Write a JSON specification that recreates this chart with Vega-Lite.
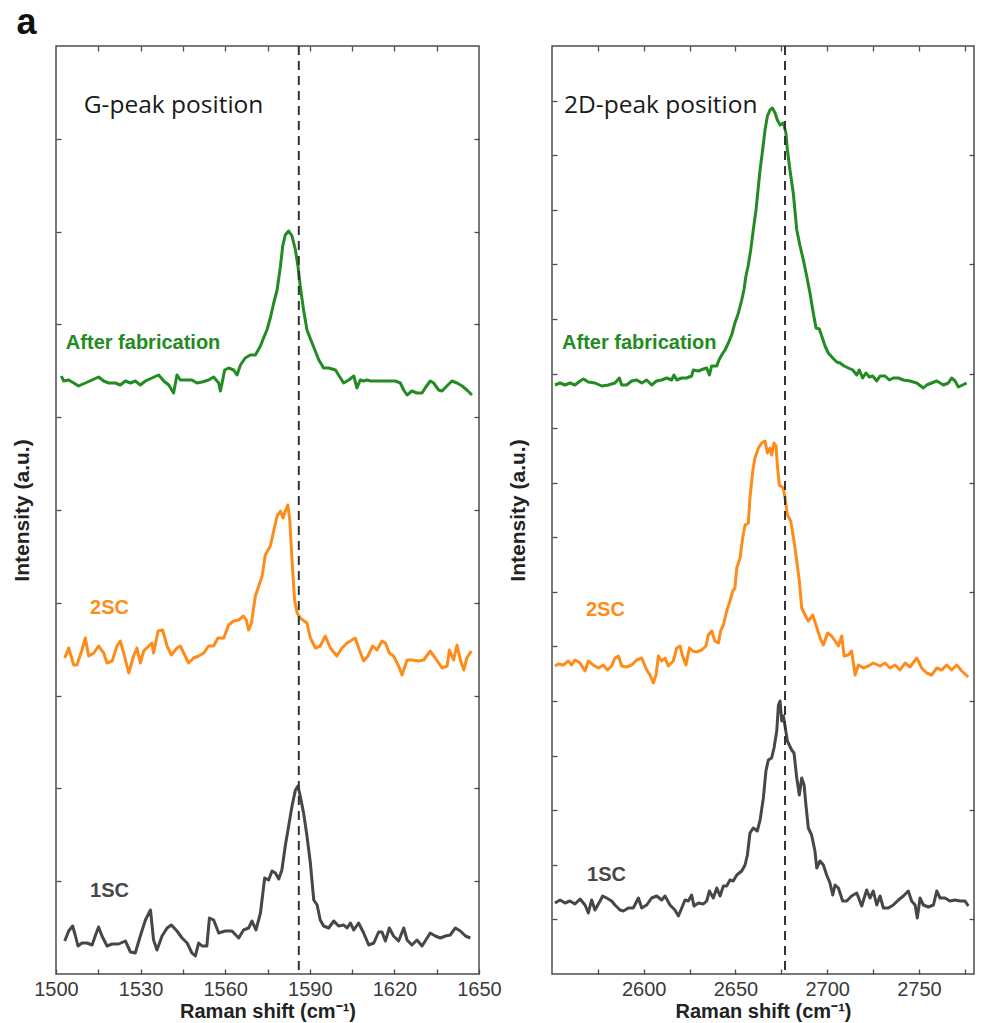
{
"$schema": "https://vega.github.io/schema/vega-lite/v6.json",
"background": "white",
"padding": {"left": 10, "top": 5, "right": 5, "bottom": 0},
"title": {"text": "a", "anchor": "start", "frame": "bounds", "fontSize": 36, "font": "Liberation Sans", "fontWeight": "bold", "color": "#111", "offset": 2, "dx": 6},
"config": {
  "view": {"stroke": "#4d4d4d", "strokeWidth": 1.5},
  "axis": {"labelFont": "Liberation Sans", "labelFontSize": 20, "labelColor": "#3a3a3a", "titleFont": "Liberation Sans", "titleFontWeight": "bold", "titleColor": "#222", "tickColor": "#4d4d4d", "tickWidth": 1.3, "domain": false, "grid": false, "tickSize": -5, "labelFlush": false, "labelOverlap": false}
},
"datasets": {
  "g": [
{"series":"After fabrication","shift":1501.9,"intensity":598},{"series":"After fabrication","shift":1502.7,"intensity":593},{"series":"After fabrication","shift":1504.5,"intensity":594},{"series":"After fabrication","shift":1506.3,"intensity":591},{"series":"After fabrication","shift":1508.0,"intensity":588},{"series":"After fabrication","shift":1510.4,"intensity":591},{"series":"After fabrication","shift":1512.8,"intensity":594},{"series":"After fabrication","shift":1515.1,"intensity":597},{"series":"After fabrication","shift":1516.9,"intensity":593},{"series":"After fabrication","shift":1518.7,"intensity":591},{"series":"After fabrication","shift":1521.0,"intensity":591},{"series":"After fabrication","shift":1522.8,"intensity":589},{"series":"After fabrication","shift":1524.6,"intensity":593},{"series":"After fabrication","shift":1526.4,"intensity":591},{"series":"After fabrication","shift":1528.1,"intensity":593},{"series":"After fabrication","shift":1529.9,"intensity":589},{"series":"After fabrication","shift":1531.7,"intensity":593},{"series":"After fabrication","shift":1534.0,"intensity":596},{"series":"After fabrication","shift":1536.4,"intensity":599},{"series":"After fabrication","shift":1538.2,"intensity":593},{"series":"After fabrication","shift":1540.0,"intensity":589},{"series":"After fabrication","shift":1541.7,"intensity":581},{"series":"After fabrication","shift":1542.9,"intensity":599},{"series":"After fabrication","shift":1544.1,"intensity":594},{"series":"After fabrication","shift":1545.9,"intensity":594},{"series":"After fabrication","shift":1548.2,"intensity":594},{"series":"After fabrication","shift":1550.0,"intensity":591},{"series":"After fabrication","shift":1551.8,"intensity":592},{"series":"After fabrication","shift":1554.1,"intensity":594},{"series":"After fabrication","shift":1555.9,"intensity":597},{"series":"After fabrication","shift":1557.7,"intensity":591},{"series":"After fabrication","shift":1558.3,"intensity":583},{"series":"After fabrication","shift":1558.9,"intensity":591},{"series":"After fabrication","shift":1559.8,"intensity":604},{"series":"After fabrication","shift":1561.2,"intensity":606},{"series":"After fabrication","shift":1563.0,"intensity":604},{"series":"After fabrication","shift":1564.2,"intensity":599},{"series":"After fabrication","shift":1565.4,"intensity":609},{"series":"After fabrication","shift":1567.1,"intensity":616},{"series":"After fabrication","shift":1568.9,"intensity":619},{"series":"After fabrication","shift":1570.7,"intensity":619},{"series":"After fabrication","shift":1572.5,"intensity":628},{"series":"After fabrication","shift":1573.6,"intensity":636},{"series":"After fabrication","shift":1574.8,"intensity":644},{"series":"After fabrication","shift":1576.0,"intensity":656},{"series":"After fabrication","shift":1577.2,"intensity":671},{"series":"After fabrication","shift":1578.4,"intensity":684},{"series":"After fabrication","shift":1579.6,"intensity":708},{"series":"After fabrication","shift":1580.4,"intensity":728},{"series":"After fabrication","shift":1581.3,"intensity":739},{"series":"After fabrication","shift":1582.5,"intensity":743},{"series":"After fabrication","shift":1583.7,"intensity":738},{"series":"After fabrication","shift":1584.9,"intensity":724},{"series":"After fabrication","shift":1585.8,"intensity":708},{"series":"After fabrication","shift":1586.6,"intensity":688},{"series":"After fabrication","shift":1587.8,"intensity":664},{"series":"After fabrication","shift":1589.0,"intensity":644},{"series":"After fabrication","shift":1590.8,"intensity":631},{"series":"After fabrication","shift":1593.2,"intensity":614},{"series":"After fabrication","shift":1594.9,"intensity":606},{"series":"After fabrication","shift":1596.7,"intensity":606},{"series":"After fabrication","shift":1599.1,"intensity":604},{"series":"After fabrication","shift":1600.2,"intensity":599},{"series":"After fabrication","shift":1602.0,"intensity":591},{"series":"After fabrication","shift":1603.8,"intensity":594},{"series":"After fabrication","shift":1605.6,"intensity":598},{"series":"After fabrication","shift":1606.7,"intensity":586},{"series":"After fabrication","shift":1607.9,"intensity":594},{"series":"After fabrication","shift":1609.1,"intensity":593},{"series":"After fabrication","shift":1610.3,"intensity":594},{"series":"After fabrication","shift":1611.5,"intensity":593},{"series":"After fabrication","shift":1613.2,"intensity":593},{"series":"After fabrication","shift":1615.6,"intensity":593},{"series":"After fabrication","shift":1617.9,"intensity":593},{"series":"After fabrication","shift":1620.3,"intensity":593},{"series":"After fabrication","shift":1622.1,"intensity":591},{"series":"After fabrication","shift":1623.3,"intensity":584},{"series":"After fabrication","shift":1624.5,"intensity":579},{"series":"After fabrication","shift":1626.2,"intensity":583},{"series":"After fabrication","shift":1628.0,"intensity":581},{"series":"After fabrication","shift":1629.8,"intensity":581},{"series":"After fabrication","shift":1630.9,"intensity":586},{"series":"After fabrication","shift":1632.7,"intensity":593},{"series":"After fabrication","shift":1633.9,"intensity":591},{"series":"After fabrication","shift":1635.7,"intensity":584},{"series":"After fabrication","shift":1636.9,"intensity":583},{"series":"After fabrication","shift":1638.6,"intensity":588},{"series":"After fabrication","shift":1640.4,"intensity":593},{"series":"After fabrication","shift":1642.2,"intensity":591},{"series":"After fabrication","shift":1644.0,"intensity":588},{"series":"After fabrication","shift":1645.7,"intensity":584},{"series":"After fabrication","shift":1647.5,"intensity":579},
{"series":"2SC","shift":1503.1,"intensity":316},{"series":"2SC","shift":1504.5,"intensity":326},{"series":"2SC","shift":1506.3,"intensity":309},{"series":"2SC","shift":1507.4,"intensity":309},{"series":"2SC","shift":1509.2,"intensity":324},{"series":"2SC","shift":1510.4,"intensity":336},{"series":"2SC","shift":1511.6,"intensity":318},{"series":"2SC","shift":1513.4,"intensity":321},{"series":"2SC","shift":1515.1,"intensity":328},{"series":"2SC","shift":1516.9,"intensity":321},{"series":"2SC","shift":1518.1,"intensity":311},{"series":"2SC","shift":1519.9,"intensity":313},{"series":"2SC","shift":1521.6,"intensity":328},{"series":"2SC","shift":1522.8,"intensity":333},{"series":"2SC","shift":1524.0,"intensity":321},{"series":"2SC","shift":1525.8,"intensity":301},{"series":"2SC","shift":1527.5,"intensity":318},{"series":"2SC","shift":1528.7,"intensity":326},{"series":"2SC","shift":1529.9,"intensity":311},{"series":"2SC","shift":1531.1,"intensity":323},{"series":"2SC","shift":1532.9,"intensity":328},{"series":"2SC","shift":1534.0,"intensity":331},{"series":"2SC","shift":1534.6,"intensity":321},{"series":"2SC","shift":1536.2,"intensity":343},{"series":"2SC","shift":1537.8,"intensity":344},{"series":"2SC","shift":1539.4,"intensity":328},{"series":"2SC","shift":1540.9,"intensity":319},{"series":"2SC","shift":1542.9,"intensity":326},{"series":"2SC","shift":1544.1,"intensity":328},{"series":"2SC","shift":1545.3,"intensity":321},{"series":"2SC","shift":1547.0,"intensity":311},{"series":"2SC","shift":1548.8,"intensity":316},{"series":"2SC","shift":1550.6,"intensity":318},{"series":"2SC","shift":1552.4,"intensity":321},{"series":"2SC","shift":1554.1,"intensity":328},{"series":"2SC","shift":1555.9,"intensity":328},{"series":"2SC","shift":1557.4,"intensity":336},{"series":"2SC","shift":1559.5,"intensity":336},{"series":"2SC","shift":1561.2,"intensity":349},{"series":"2SC","shift":1563.0,"intensity":353},{"series":"2SC","shift":1564.8,"intensity":354},{"series":"2SC","shift":1566.5,"intensity":358},{"series":"2SC","shift":1567.5,"intensity":354},{"series":"2SC","shift":1568.3,"intensity":344},{"series":"2SC","shift":1569.3,"intensity":351},{"series":"2SC","shift":1570.7,"intensity":378},{"series":"2SC","shift":1571.9,"intensity":388},{"series":"2SC","shift":1573.1,"intensity":398},{"series":"2SC","shift":1574.2,"intensity":419},{"series":"2SC","shift":1576.0,"intensity":428},{"series":"2SC","shift":1577.2,"intensity":443},{"series":"2SC","shift":1578.4,"intensity":458},{"series":"2SC","shift":1579.6,"intensity":463},{"series":"2SC","shift":1580.5,"intensity":456},{"series":"2SC","shift":1581.3,"intensity":463},{"series":"2SC","shift":1582.2,"intensity":469},{"series":"2SC","shift":1582.9,"intensity":454},{"series":"2SC","shift":1583.7,"intensity":414},{"series":"2SC","shift":1584.6,"intensity":374},{"series":"2SC","shift":1585.5,"intensity":361},{"series":"2SC","shift":1586.6,"intensity":356},{"series":"2SC","shift":1589.0,"intensity":351},{"series":"2SC","shift":1590.2,"intensity":336},{"series":"2SC","shift":1592.0,"intensity":326},{"series":"2SC","shift":1593.7,"intensity":328},{"series":"2SC","shift":1595.5,"intensity":338},{"series":"2SC","shift":1597.3,"intensity":326},{"series":"2SC","shift":1599.6,"intensity":318},{"series":"2SC","shift":1601.4,"intensity":326},{"series":"2SC","shift":1603.2,"intensity":331},{"series":"2SC","shift":1606.1,"intensity":336},{"series":"2SC","shift":1607.6,"intensity":324},{"series":"2SC","shift":1609.1,"intensity":313},{"series":"2SC","shift":1610.6,"intensity":318},{"series":"2SC","shift":1612.3,"intensity":328},{"series":"2SC","shift":1613.8,"intensity":324},{"series":"2SC","shift":1615.6,"intensity":333},{"series":"2SC","shift":1616.8,"intensity":331},{"series":"2SC","shift":1618.2,"intensity":321},{"series":"2SC","shift":1619.7,"intensity":318},{"series":"2SC","shift":1621.5,"intensity":308},{"series":"2SC","shift":1622.7,"intensity":299},{"series":"2SC","shift":1624.5,"intensity":314},{"series":"2SC","shift":1626.2,"intensity":314},{"series":"2SC","shift":1628.6,"intensity":313},{"series":"2SC","shift":1630.4,"intensity":314},{"series":"2SC","shift":1632.7,"intensity":323},{"series":"2SC","shift":1634.5,"intensity":316},{"series":"2SC","shift":1636.9,"intensity":306},{"series":"2SC","shift":1638.7,"intensity":308},{"series":"2SC","shift":1639.5,"intensity":324},{"series":"2SC","shift":1641.0,"intensity":314},{"series":"2SC","shift":1642.2,"intensity":329},{"series":"2SC","shift":1643.4,"intensity":314},{"series":"2SC","shift":1644.6,"intensity":304},{"series":"2SC","shift":1645.7,"intensity":316},{"series":"2SC","shift":1647.3,"intensity":323},
{"series":"1SC","shift":1503.1,"intensity":33},{"series":"1SC","shift":1504.5,"intensity":43},{"series":"1SC","shift":1505.9,"intensity":48},{"series":"1SC","shift":1506.9,"intensity":38},{"series":"1SC","shift":1507.8,"intensity":28},{"series":"1SC","shift":1509.2,"intensity":31},{"series":"1SC","shift":1511.0,"intensity":31},{"series":"1SC","shift":1512.8,"intensity":29},{"series":"1SC","shift":1513.9,"intensity":38},{"series":"1SC","shift":1515.1,"intensity":47},{"series":"1SC","shift":1516.3,"intensity":38},{"series":"1SC","shift":1518.1,"intensity":28},{"series":"1SC","shift":1519.9,"intensity":30},{"series":"1SC","shift":1522.2,"intensity":30},{"series":"1SC","shift":1524.6,"intensity":33},{"series":"1SC","shift":1526.4,"intensity":22},{"series":"1SC","shift":1528.1,"intensity":21},{"series":"1SC","shift":1529.9,"intensity":38},{"series":"1SC","shift":1531.7,"intensity":54},{"series":"1SC","shift":1533.5,"intensity":64},{"series":"1SC","shift":1534.6,"intensity":34},{"series":"1SC","shift":1535.8,"intensity":24},{"series":"1SC","shift":1537.6,"intensity":38},{"series":"1SC","shift":1539.4,"intensity":46},{"series":"1SC","shift":1540.9,"intensity":49},{"series":"1SC","shift":1542.9,"intensity":43},{"series":"1SC","shift":1544.7,"intensity":36},{"series":"1SC","shift":1546.5,"intensity":31},{"series":"1SC","shift":1548.2,"intensity":21},{"series":"1SC","shift":1549.4,"intensity":18},{"series":"1SC","shift":1550.6,"intensity":31},{"series":"1SC","shift":1551.8,"intensity":28},{"series":"1SC","shift":1553.5,"intensity":28},{"series":"1SC","shift":1554.4,"intensity":56},{"series":"1SC","shift":1555.9,"intensity":54},{"series":"1SC","shift":1557.7,"intensity":41},{"series":"1SC","shift":1560.0,"intensity":43},{"series":"1SC","shift":1562.4,"intensity":43},{"series":"1SC","shift":1564.8,"intensity":36},{"series":"1SC","shift":1566.5,"intensity":44},{"series":"1SC","shift":1568.3,"intensity":46},{"series":"1SC","shift":1569.5,"intensity":53},{"series":"1SC","shift":1570.9,"intensity":44},{"series":"1SC","shift":1572.5,"intensity":61},{"series":"1SC","shift":1574.0,"intensity":96},{"series":"1SC","shift":1575.4,"intensity":94},{"series":"1SC","shift":1576.6,"intensity":103},{"series":"1SC","shift":1577.8,"intensity":101},{"series":"1SC","shift":1579.0,"intensity":95},{"series":"1SC","shift":1580.1,"intensity":104},{"series":"1SC","shift":1581.3,"intensity":128},{"series":"1SC","shift":1582.5,"intensity":148},{"series":"1SC","shift":1583.7,"intensity":168},{"series":"1SC","shift":1584.9,"intensity":184},{"series":"1SC","shift":1585.8,"intensity":188},{"series":"1SC","shift":1586.6,"intensity":178},{"series":"1SC","shift":1587.8,"intensity":161},{"series":"1SC","shift":1589.0,"intensity":138},{"series":"1SC","shift":1590.2,"intensity":111},{"series":"1SC","shift":1591.4,"intensity":74},{"series":"1SC","shift":1592.6,"intensity":69},{"series":"1SC","shift":1593.7,"intensity":54},{"series":"1SC","shift":1594.9,"intensity":48},{"series":"1SC","shift":1596.7,"intensity":46},{"series":"1SC","shift":1598.5,"intensity":53},{"series":"1SC","shift":1600.2,"intensity":48},{"series":"1SC","shift":1602.0,"intensity":49},{"series":"1SC","shift":1603.2,"intensity":46},{"series":"1SC","shift":1604.4,"intensity":51},{"series":"1SC","shift":1605.6,"intensity":44},{"series":"1SC","shift":1607.3,"intensity":51},{"series":"1SC","shift":1609.1,"intensity":41},{"series":"1SC","shift":1610.9,"intensity":29},{"series":"1SC","shift":1612.7,"intensity":31},{"series":"1SC","shift":1614.4,"intensity":42},{"series":"1SC","shift":1615.6,"intensity":42},{"series":"1SC","shift":1616.8,"intensity":33},{"series":"1SC","shift":1618.2,"intensity":46},{"series":"1SC","shift":1619.7,"intensity":38},{"series":"1SC","shift":1621.5,"intensity":33},{"series":"1SC","shift":1623.3,"intensity":46},{"series":"1SC","shift":1624.5,"intensity":34},{"series":"1SC","shift":1626.2,"intensity":29},{"series":"1SC","shift":1628.0,"intensity":34},{"series":"1SC","shift":1629.8,"intensity":28},{"series":"1SC","shift":1631.6,"intensity":36},{"series":"1SC","shift":1632.7,"intensity":41},{"series":"1SC","shift":1634.5,"intensity":38},{"series":"1SC","shift":1636.3,"intensity":36},{"series":"1SC","shift":1638.1,"intensity":38},{"series":"1SC","shift":1639.8,"intensity":39},{"series":"1SC","shift":1641.6,"intensity":46},{"series":"1SC","shift":1643.4,"intensity":43},{"series":"1SC","shift":1645.2,"intensity":38},{"series":"1SC","shift":1646.9,"intensity":36}
  ],
  "d": [
{"series":"After fabrication","shift":2551.6,"intensity":589},{"series":"After fabrication","shift":2554.4,"intensity":591},{"series":"After fabrication","shift":2557.1,"intensity":589},{"series":"After fabrication","shift":2559.8,"intensity":591},{"series":"After fabrication","shift":2562.5,"intensity":589},{"series":"After fabrication","shift":2565.3,"intensity":593},{"series":"After fabrication","shift":2567.1,"intensity":595},{"series":"After fabrication","shift":2569.8,"intensity":592},{"series":"After fabrication","shift":2573.4,"intensity":591},{"series":"After fabrication","shift":2577.1,"intensity":588},{"series":"After fabrication","shift":2580.7,"intensity":589},{"series":"After fabrication","shift":2584.3,"intensity":591},{"series":"After fabrication","shift":2586.7,"intensity":596},{"series":"After fabrication","shift":2588.0,"intensity":589},{"series":"After fabrication","shift":2590.7,"intensity":589},{"series":"After fabrication","shift":2593.4,"intensity":593},{"series":"After fabrication","shift":2596.2,"intensity":594},{"series":"After fabrication","shift":2598.9,"intensity":591},{"series":"After fabrication","shift":2601.6,"intensity":594},{"series":"After fabrication","shift":2604.3,"intensity":589},{"series":"After fabrication","shift":2607.0,"intensity":593},{"series":"After fabrication","shift":2609.8,"intensity":594},{"series":"After fabrication","shift":2612.5,"intensity":596},{"series":"After fabrication","shift":2615.2,"intensity":594},{"series":"After fabrication","shift":2616.5,"intensity":599},{"series":"After fabrication","shift":2618.0,"intensity":594},{"series":"After fabrication","shift":2620.7,"intensity":596},{"series":"After fabrication","shift":2623.4,"intensity":596},{"series":"After fabrication","shift":2626.1,"intensity":598},{"series":"After fabrication","shift":2627.0,"intensity":604},{"series":"After fabrication","shift":2629.8,"intensity":603},{"series":"After fabrication","shift":2632.5,"intensity":605},{"series":"After fabrication","shift":2634.3,"intensity":606},{"series":"After fabrication","shift":2635.8,"intensity":599},{"series":"After fabrication","shift":2637.0,"intensity":608},{"series":"After fabrication","shift":2639.8,"intensity":608},{"series":"After fabrication","shift":2641.0,"intensity":614},{"series":"After fabrication","shift":2642.5,"intensity":619},{"series":"After fabrication","shift":2644.3,"intensity":624},{"series":"After fabrication","shift":2646.1,"intensity":631},{"series":"After fabrication","shift":2647.9,"intensity":639},{"series":"After fabrication","shift":2649.7,"intensity":651},{"series":"After fabrication","shift":2651.6,"intensity":661},{"series":"After fabrication","shift":2653.4,"intensity":674},{"series":"After fabrication","shift":2654.6,"intensity":684},{"series":"After fabrication","shift":2655.7,"intensity":698},{"series":"After fabrication","shift":2657.0,"intensity":709},{"series":"After fabrication","shift":2658.3,"intensity":724},{"series":"After fabrication","shift":2659.7,"intensity":744},{"series":"After fabrication","shift":2661.2,"intensity":764},{"series":"After fabrication","shift":2662.5,"intensity":788},{"series":"After fabrication","shift":2663.4,"intensity":804},{"series":"After fabrication","shift":2664.8,"intensity":824},{"series":"After fabrication","shift":2666.1,"intensity":844},{"series":"After fabrication","shift":2667.4,"intensity":858},{"series":"After fabrication","shift":2668.8,"intensity":864},{"series":"After fabrication","shift":2670.1,"intensity":866},{"series":"After fabrication","shift":2671.6,"intensity":861},{"series":"After fabrication","shift":2672.8,"intensity":854},{"series":"After fabrication","shift":2674.3,"intensity":849},{"series":"After fabrication","shift":2676.1,"intensity":851},{"series":"After fabrication","shift":2677.5,"intensity":841},{"series":"After fabrication","shift":2678.3,"intensity":824},{"series":"After fabrication","shift":2679.7,"intensity":804},{"series":"After fabrication","shift":2681.5,"intensity":781},{"series":"After fabrication","shift":2683.4,"intensity":744},{"series":"After fabrication","shift":2685.2,"intensity":728},{"series":"After fabrication","shift":2687.0,"intensity":714},{"series":"After fabrication","shift":2688.8,"intensity":698},{"series":"After fabrication","shift":2690.6,"intensity":681},{"series":"After fabrication","shift":2692.4,"intensity":661},{"series":"After fabrication","shift":2693.9,"intensity":646},{"series":"After fabrication","shift":2695.7,"intensity":645},{"series":"After fabrication","shift":2697.0,"intensity":638},{"series":"After fabrication","shift":2698.8,"intensity":628},{"series":"After fabrication","shift":2700.6,"intensity":621},{"series":"After fabrication","shift":2703.0,"intensity":616},{"series":"After fabrication","shift":2705.2,"intensity":612},{"series":"After fabrication","shift":2707.0,"intensity":611},{"series":"After fabrication","shift":2709.2,"intensity":608},{"series":"After fabrication","shift":2711.5,"intensity":606},{"series":"After fabrication","shift":2713.9,"intensity":604},{"series":"After fabrication","shift":2716.1,"intensity":599},{"series":"After fabrication","shift":2717.5,"intensity":604},{"series":"After fabrication","shift":2719.3,"intensity":596},{"series":"After fabrication","shift":2721.1,"intensity":601},{"series":"After fabrication","shift":2723.0,"intensity":597},{"series":"After fabrication","shift":2724.8,"intensity":598},{"series":"After fabrication","shift":2727.0,"intensity":593},{"series":"After fabrication","shift":2728.8,"intensity":598},{"series":"After fabrication","shift":2731.5,"intensity":598},{"series":"After fabrication","shift":2733.9,"intensity":594},{"series":"After fabrication","shift":2736.0,"intensity":596},{"series":"After fabrication","shift":2738.8,"intensity":596},{"series":"After fabrication","shift":2741.5,"intensity":594},{"series":"After fabrication","shift":2745.1,"intensity":593},{"series":"After fabrication","shift":2748.8,"intensity":591},{"series":"After fabrication","shift":2752.4,"intensity":586},{"series":"After fabrication","shift":2754.2,"intensity":589},{"series":"After fabrication","shift":2756.9,"intensity":591},{"series":"After fabrication","shift":2759.7,"intensity":593},{"series":"After fabrication","shift":2763.3,"intensity":589},{"series":"After fabrication","shift":2766.0,"intensity":591},{"series":"After fabrication","shift":2767.8,"intensity":596},{"series":"After fabrication","shift":2769.7,"intensity":593},{"series":"After fabrication","shift":2771.5,"intensity":587},{"series":"After fabrication","shift":2773.8,"intensity":589},{"series":"After fabrication","shift":2776.0,"intensity":591},
{"series":"2SC","shift":2551.6,"intensity":308},{"series":"2SC","shift":2553.5,"intensity":310},{"series":"2SC","shift":2556.2,"intensity":309},{"series":"2SC","shift":2558.9,"intensity":313},{"series":"2SC","shift":2560.7,"intensity":309},{"series":"2SC","shift":2562.5,"intensity":314},{"series":"2SC","shift":2565.3,"intensity":311},{"series":"2SC","shift":2568.0,"intensity":303},{"series":"2SC","shift":2569.8,"intensity":313},{"series":"2SC","shift":2572.5,"intensity":309},{"series":"2SC","shift":2575.3,"intensity":306},{"series":"2SC","shift":2578.0,"intensity":309},{"series":"2SC","shift":2580.2,"intensity":304},{"series":"2SC","shift":2582.5,"intensity":308},{"series":"2SC","shift":2584.3,"intensity":316},{"series":"2SC","shift":2586.2,"intensity":318},{"series":"2SC","shift":2588.0,"intensity":308},{"series":"2SC","shift":2590.7,"intensity":307},{"series":"2SC","shift":2593.4,"intensity":309},{"series":"2SC","shift":2596.1,"intensity":314},{"series":"2SC","shift":2598.9,"intensity":316},{"series":"2SC","shift":2601.6,"intensity":304},{"series":"2SC","shift":2603.4,"intensity":299},{"series":"2SC","shift":2605.2,"intensity":291},{"series":"2SC","shift":2606.7,"intensity":299},{"series":"2SC","shift":2608.0,"intensity":318},{"series":"2SC","shift":2609.8,"intensity":313},{"series":"2SC","shift":2611.6,"intensity":316},{"series":"2SC","shift":2613.4,"intensity":308},{"series":"2SC","shift":2616.1,"intensity":313},{"series":"2SC","shift":2618.0,"intensity":326},{"series":"2SC","shift":2619.8,"intensity":328},{"series":"2SC","shift":2621.2,"intensity":318},{"series":"2SC","shift":2623.0,"intensity":309},{"series":"2SC","shift":2624.9,"intensity":326},{"series":"2SC","shift":2626.7,"intensity":323},{"series":"2SC","shift":2628.8,"intensity":322},{"series":"2SC","shift":2631.6,"intensity":324},{"series":"2SC","shift":2633.9,"intensity":328},{"series":"2SC","shift":2635.2,"intensity":339},{"series":"2SC","shift":2637.0,"intensity":343},{"series":"2SC","shift":2638.8,"intensity":333},{"series":"2SC","shift":2640.7,"intensity":331},{"series":"2SC","shift":2641.9,"intensity":343},{"series":"2SC","shift":2643.4,"intensity":349},{"series":"2SC","shift":2645.2,"intensity":363},{"series":"2SC","shift":2647.0,"intensity":373},{"series":"2SC","shift":2648.5,"intensity":383},{"series":"2SC","shift":2649.7,"intensity":386},{"series":"2SC","shift":2650.7,"intensity":406},{"series":"2SC","shift":2652.5,"intensity":416},{"series":"2SC","shift":2653.9,"intensity":436},{"series":"2SC","shift":2655.2,"intensity":449},{"series":"2SC","shift":2657.0,"intensity":451},{"series":"2SC","shift":2657.9,"intensity":476},{"series":"2SC","shift":2659.4,"intensity":503},{"series":"2SC","shift":2660.6,"intensity":516},{"series":"2SC","shift":2662.5,"intensity":526},{"series":"2SC","shift":2664.3,"intensity":531},{"series":"2SC","shift":2666.1,"intensity":533},{"series":"2SC","shift":2667.4,"intensity":521},{"series":"2SC","shift":2668.8,"intensity":526},{"series":"2SC","shift":2669.7,"intensity":519},{"series":"2SC","shift":2671.0,"intensity":531},{"series":"2SC","shift":2672.1,"intensity":528},{"series":"2SC","shift":2672.8,"intensity":509},{"series":"2SC","shift":2673.9,"intensity":489},{"series":"2SC","shift":2676.1,"intensity":486},{"series":"2SC","shift":2677.0,"intensity":476},{"series":"2SC","shift":2678.3,"intensity":459},{"series":"2SC","shift":2680.1,"intensity":453},{"series":"2SC","shift":2681.9,"intensity":433},{"series":"2SC","shift":2683.4,"intensity":413},{"series":"2SC","shift":2684.8,"intensity":393},{"series":"2SC","shift":2686.1,"intensity":366},{"series":"2SC","shift":2687.9,"intensity":359},{"series":"2SC","shift":2689.7,"intensity":353},{"series":"2SC","shift":2692.1,"intensity":359},{"series":"2SC","shift":2693.9,"intensity":349},{"series":"2SC","shift":2696.1,"intensity":336},{"series":"2SC","shift":2697.9,"intensity":329},{"series":"2SC","shift":2700.2,"intensity":341},{"series":"2SC","shift":2702.4,"intensity":338},{"series":"2SC","shift":2704.3,"intensity":333},{"series":"2SC","shift":2706.1,"intensity":328},{"series":"2SC","shift":2707.9,"intensity":338},{"series":"2SC","shift":2709.2,"intensity":318},{"series":"2SC","shift":2711.5,"intensity":319},{"series":"2SC","shift":2713.3,"intensity":323},{"series":"2SC","shift":2715.2,"intensity":299},{"series":"2SC","shift":2717.0,"intensity":309},{"series":"2SC","shift":2719.7,"intensity":306},{"series":"2SC","shift":2722.4,"intensity":308},{"series":"2SC","shift":2725.1,"intensity":311},{"series":"2SC","shift":2728.8,"intensity":308},{"series":"2SC","shift":2731.5,"intensity":311},{"series":"2SC","shift":2734.2,"intensity":306},{"series":"2SC","shift":2737.0,"intensity":309},{"series":"2SC","shift":2739.7,"intensity":304},{"series":"2SC","shift":2742.4,"intensity":311},{"series":"2SC","shift":2745.1,"intensity":307},{"series":"2SC","shift":2748.8,"intensity":316},{"series":"2SC","shift":2751.5,"intensity":306},{"series":"2SC","shift":2754.2,"intensity":301},{"series":"2SC","shift":2756.9,"intensity":299},{"series":"2SC","shift":2759.7,"intensity":306},{"series":"2SC","shift":2762.4,"intensity":304},{"series":"2SC","shift":2765.1,"intensity":309},{"series":"2SC","shift":2767.8,"intensity":304},{"series":"2SC","shift":2770.6,"intensity":309},{"series":"2SC","shift":2773.3,"intensity":303},{"series":"2SC","shift":2776.9,"intensity":297},
{"series":"1SC","shift":2551.6,"intensity":71},{"series":"1SC","shift":2554.4,"intensity":74},{"series":"1SC","shift":2557.1,"intensity":71},{"series":"1SC","shift":2559.8,"intensity":73},{"series":"1SC","shift":2562.5,"intensity":70},{"series":"1SC","shift":2565.3,"intensity":75},{"series":"1SC","shift":2568.0,"intensity":69},{"series":"1SC","shift":2569.8,"intensity":61},{"series":"1SC","shift":2571.6,"intensity":74},{"series":"1SC","shift":2573.4,"intensity":64},{"series":"1SC","shift":2576.2,"intensity":73},{"series":"1SC","shift":2577.6,"intensity":78},{"series":"1SC","shift":2579.8,"intensity":76},{"series":"1SC","shift":2582.5,"intensity":73},{"series":"1SC","shift":2584.3,"intensity":69},{"series":"1SC","shift":2587.1,"intensity":64},{"series":"1SC","shift":2588.9,"intensity":63},{"series":"1SC","shift":2591.6,"intensity":66},{"series":"1SC","shift":2594.3,"intensity":66},{"series":"1SC","shift":2597.1,"intensity":76},{"series":"1SC","shift":2598.9,"intensity":66},{"series":"1SC","shift":2601.6,"intensity":69},{"series":"1SC","shift":2604.3,"intensity":76},{"series":"1SC","shift":2607.1,"intensity":78},{"series":"1SC","shift":2609.8,"intensity":74},{"series":"1SC","shift":2611.6,"intensity":78},{"series":"1SC","shift":2614.3,"intensity":69},{"series":"1SC","shift":2617.0,"intensity":64},{"series":"1SC","shift":2618.9,"intensity":58},{"series":"1SC","shift":2620.7,"intensity":66},{"series":"1SC","shift":2622.5,"intensity":74},{"series":"1SC","shift":2624.3,"intensity":73},{"series":"1SC","shift":2626.1,"intensity":79},{"series":"1SC","shift":2627.4,"intensity":68},{"series":"1SC","shift":2629.8,"intensity":71},{"series":"1SC","shift":2632.5,"intensity":70},{"series":"1SC","shift":2634.3,"intensity":73},{"series":"1SC","shift":2635.8,"intensity":83},{"series":"1SC","shift":2637.9,"intensity":76},{"series":"1SC","shift":2639.8,"intensity":86},{"series":"1SC","shift":2641.6,"intensity":78},{"series":"1SC","shift":2643.4,"intensity":88},{"series":"1SC","shift":2645.2,"intensity":88},{"series":"1SC","shift":2647.0,"intensity":94},{"series":"1SC","shift":2648.8,"intensity":93},{"series":"1SC","shift":2650.7,"intensity":99},{"series":"1SC","shift":2653.4,"intensity":103},{"series":"1SC","shift":2655.2,"intensity":109},{"series":"1SC","shift":2656.5,"intensity":119},{"series":"1SC","shift":2657.9,"intensity":141},{"series":"1SC","shift":2659.7,"intensity":146},{"series":"1SC","shift":2661.9,"intensity":143},{"series":"1SC","shift":2663.4,"intensity":154},{"series":"1SC","shift":2665.2,"intensity":176},{"series":"1SC","shift":2666.6,"intensity":203},{"series":"1SC","shift":2667.9,"intensity":214},{"series":"1SC","shift":2669.7,"intensity":216},{"series":"1SC","shift":2671.0,"intensity":226},{"series":"1SC","shift":2672.5,"intensity":243},{"series":"1SC","shift":2673.4,"intensity":269},{"series":"1SC","shift":2674.3,"intensity":273},{"series":"1SC","shift":2675.2,"intensity":253},{"series":"1SC","shift":2676.1,"intensity":258},{"series":"1SC","shift":2677.0,"intensity":248},{"series":"1SC","shift":2678.3,"intensity":233},{"series":"1SC","shift":2680.6,"intensity":224},{"series":"1SC","shift":2681.9,"intensity":221},{"series":"1SC","shift":2683.4,"intensity":196},{"series":"1SC","shift":2684.8,"intensity":179},{"series":"1SC","shift":2686.1,"intensity":196},{"series":"1SC","shift":2687.4,"intensity":189},{"series":"1SC","shift":2688.4,"intensity":169},{"series":"1SC","shift":2689.7,"intensity":146},{"series":"1SC","shift":2691.5,"intensity":139},{"series":"1SC","shift":2693.3,"intensity":123},{"series":"1SC","shift":2694.3,"intensity":106},{"series":"1SC","shift":2696.1,"intensity":113},{"series":"1SC","shift":2697.9,"intensity":109},{"series":"1SC","shift":2699.7,"intensity":99},{"series":"1SC","shift":2701.5,"intensity":91},{"series":"1SC","shift":2703.0,"intensity":79},{"series":"1SC","shift":2704.3,"intensity":89},{"series":"1SC","shift":2706.1,"intensity":86},{"series":"1SC","shift":2708.4,"intensity":73},{"series":"1SC","shift":2710.6,"intensity":73},{"series":"1SC","shift":2713.3,"intensity":78},{"series":"1SC","shift":2716.1,"intensity":81},{"series":"1SC","shift":2718.8,"intensity":68},{"series":"1SC","shift":2721.5,"intensity":84},{"series":"1SC","shift":2723.3,"intensity":76},{"series":"1SC","shift":2725.1,"intensity":83},{"series":"1SC","shift":2727.0,"intensity":69},{"series":"1SC","shift":2728.8,"intensity":78},{"series":"1SC","shift":2730.6,"intensity":66},{"series":"1SC","shift":2733.3,"intensity":66},{"series":"1SC","shift":2736.0,"intensity":69},{"series":"1SC","shift":2738.8,"intensity":74},{"series":"1SC","shift":2741.5,"intensity":78},{"series":"1SC","shift":2744.2,"intensity":83},{"series":"1SC","shift":2746.0,"intensity":73},{"series":"1SC","shift":2747.9,"intensity":69},{"series":"1SC","shift":2749.1,"intensity":56},{"series":"1SC","shift":2750.6,"intensity":76},{"series":"1SC","shift":2752.4,"intensity":69},{"series":"1SC","shift":2755.1,"intensity":67},{"series":"1SC","shift":2757.9,"intensity":69},{"series":"1SC","shift":2759.7,"intensity":83},{"series":"1SC","shift":2761.5,"intensity":76},{"series":"1SC","shift":2764.2,"intensity":76},{"series":"1SC","shift":2766.9,"intensity":73},{"series":"1SC","shift":2769.7,"intensity":74},{"series":"1SC","shift":2772.4,"intensity":73},{"series":"1SC","shift":2775.1,"intensity":73},{"series":"1SC","shift":2776.9,"intensity":68}
  ],
  "gLabels": [
    {"series":"After fabrication","label":"After fabrication","shift":1503.5,"intensity":631},
    {"series":"2SC","label":"2SC","shift":1512.1,"intensity":366},
    {"series":"1SC","label":"1SC","shift":1512.1,"intensity":83}
  ],
  "dLabels": [
    {"series":"After fabrication","label":"After fabrication","shift":2555.5,"intensity":631},
    {"series":"2SC","label":"2SC","shift":2568.5,"intensity":364},
    {"series":"1SC","label":"1SC","shift":2569.1,"intensity":99}
  ],
  "gRef": [{"shift":1586.1,"intensity":868,"label":"G-peak position"}],
  "dRef": [{"shift":2677.0,"intensity":868,"label":"2D-peak position"}]
},
"spacing": 4,
"hconcat": [
  {
    "width": 423, "height": 928,
    "layer": [
      {
        "data": {"name": "g"},
        "mark": {"type": "line", "strokeWidth": 3, "strokeJoin": "round"},
        "encoding": {
          "x": {"field": "shift", "type": "quantitative", "scale": {"domain": [1500, 1650], "nice": false, "zero": false},
                "axis": {"orient": "bottom", "title": "Raman shift (cm⁻¹)", "titleFontSize": 20, "titlePadding": 2, "labelPadding": 10, "format": "d",
                         "values": [1500,1515,1530,1545,1560,1575,1590,1605,1620,1635,1650],
                         "labelExpr": "datum.value % 30 == 0 ? datum.label : ''"}},
          "y": {"field": "intensity", "type": "quantitative", "scale": {"domain": [0, 928], "nice": false, "zero": false},
                "axis": {"orient": "left", "title": "Intensity (a.u.)", "titleFontSize": 21, "titlePadding": 23, "labels": false,
                         "values": [92.8,185.6,278.4,371.2,464,556.8,649.6,742.4,835.2]}},
          "color": {"field": "series", "type": "nominal", "scale": {"domain": ["After fabrication","2SC","1SC"], "range": ["#228b22","#ff8c1a","#474747"]}, "legend": null}
        }
      },
      {
        "data": {"name": "gRef"},
        "mark": {"type": "rule", "strokeDash": [9, 6], "strokeWidth": 2, "color": "#333333"},
        "encoding": {"x": {"field": "shift", "type": "quantitative", "axis": null}}
      },
      {
        "data": {"name": "gLabels"},
        "mark": {"type": "text", "align": "left", "baseline": "middle", "font": "Liberation Sans", "fontWeight": "bold", "fontSize": 20},
        "encoding": {
          "x": {"field": "shift", "type": "quantitative", "axis": {"orient": "top", "title": null, "labels": false, "values": [1515,1530,1545,1560,1575,1590,1605,1620,1635]}},
          "y": {"field": "intensity", "type": "quantitative", "axis": {"orient": "right", "title": null, "labels": false, "values": [92.8,185.6,278.4,371.2,464,556.8,649.6,742.4,835.2]}},
          "text": {"field": "label"},
          "color": {"field": "series", "type": "nominal", "legend": null}
        }
      },
      {
        "data": {"name": "gRef"},
        "mark": {"type": "text", "align": "left", "baseline": "middle", "font": "Open Sans", "fontSize": 24.5, "color": "#1a1a1a", "dx": -215},
        "encoding": {
          "x": {"field": "shift", "type": "quantitative", "axis": null},
          "y": {"field": "intensity", "type": "quantitative", "axis": null},
          "text": {"field": "label"}
        }
      }
    ],
    "resolve": {"axis": {"x": "independent", "y": "independent"}}
  },
  {
    "width": 422, "height": 928,
    "layer": [
      {
        "data": {"name": "d"},
        "mark": {"type": "line", "strokeWidth": 3, "strokeJoin": "round"},
        "encoding": {
          "x": {"field": "shift", "type": "quantitative", "scale": {"domain": [2550, 2780], "nice": false, "zero": false},
                "axis": {"orient": "bottom", "title": "Raman shift (cm⁻¹)", "titleFontSize": 20, "titlePadding": 2, "labelPadding": 10, "format": "d",
                         "values": [2575,2600,2625,2650,2675,2700,2725,2750,2775],
                         "labelExpr": "datum.value % 50 == 0 ? datum.label : ''"}},
          "y": {"field": "intensity", "type": "quantitative", "scale": {"domain": [0, 928], "nice": false, "zero": false},
                "axis": {"orient": "left", "title": "Intensity (a.u.)", "titleFontSize": 21, "titlePadding": 23, "labels": false,
                         "values": [54.59,109.18,163.77,218.36,272.95,327.54,382.13,436.72,491.31,545.9,600.49,655.08,709.67,764.26,818.85,873.44]}},
          "color": {"field": "series", "type": "nominal", "scale": {"domain": ["After fabrication","2SC","1SC"], "range": ["#228b22","#ff8c1a","#474747"]}, "legend": null}
        }
      },
      {
        "data": {"name": "dRef"},
        "mark": {"type": "rule", "strokeDash": [9, 6], "strokeWidth": 2, "color": "#333333"},
        "encoding": {"x": {"field": "shift", "type": "quantitative", "axis": null}}
      },
      {
        "data": {"name": "dLabels"},
        "mark": {"type": "text", "align": "left", "baseline": "middle", "font": "Liberation Sans", "fontWeight": "bold", "fontSize": 20},
        "encoding": {
          "x": {"field": "shift", "type": "quantitative", "axis": {"orient": "top", "title": null, "labels": false, "values": [2575,2600,2625,2650,2675,2700,2725,2750,2775]}},
          "y": {"field": "intensity", "type": "quantitative", "axis": {"orient": "right", "title": null, "labels": false, "values": [54.59,163.77,272.95,382.13,491.31,600.49,709.67,818.85]}},
          "text": {"field": "label"},
          "color": {"field": "series", "type": "nominal", "legend": null}
        }
      },
      {
        "data": {"name": "dRef"},
        "mark": {"type": "text", "align": "left", "baseline": "middle", "font": "Open Sans", "fontSize": 24.5, "color": "#1a1a1a", "dx": -221},
        "encoding": {
          "x": {"field": "shift", "type": "quantitative", "axis": null},
          "y": {"field": "intensity", "type": "quantitative", "axis": null},
          "text": {"field": "label"}
        }
      }
    ],
    "resolve": {"axis": {"x": "independent", "y": "independent"}}
  }
]
}
